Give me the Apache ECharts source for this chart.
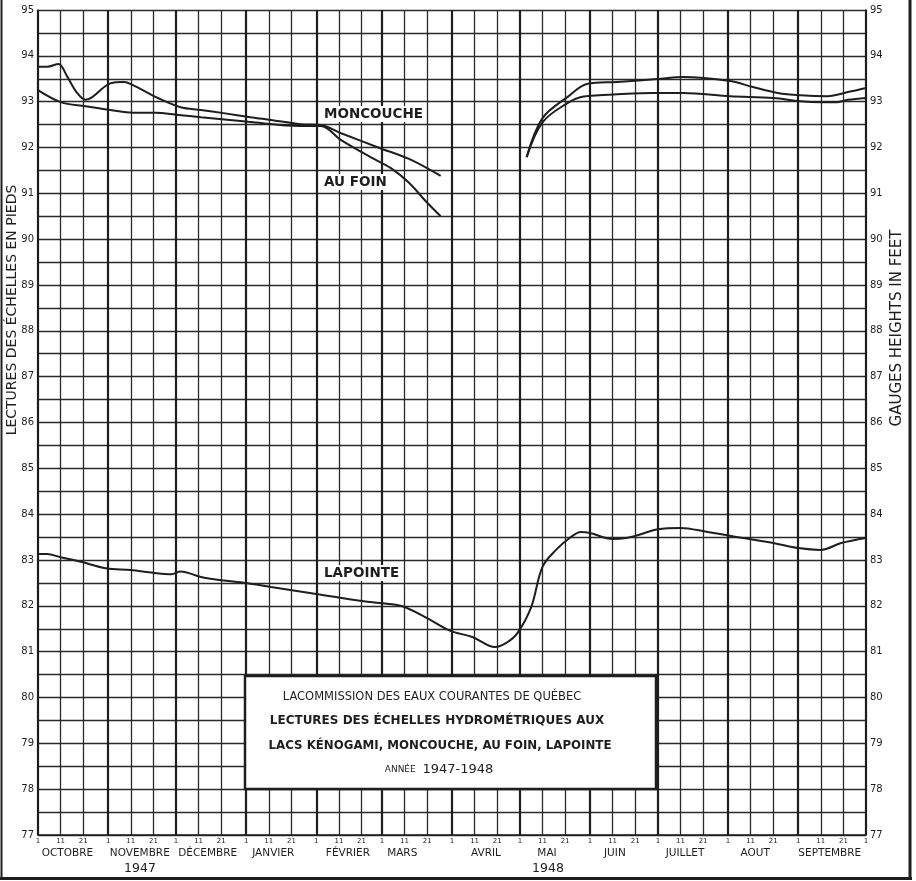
<!DOCTYPE html>
<html>
<head>
<meta charset="utf-8">
<script src="https://cdn.jsdelivr.net/npm/echarts@6/dist/echarts.min.js"></script>
<style>
html,body{margin:0;padding:0;background:#fff;}
#chart{width:916px;height:881px;}
</style>
</head>
<body>
<div id="chart"></div>
<script>
// ---------- DATA ----------
const moncoucheWinter = [
  ['1947-10-01', 93.76], ['1947-10-05', 93.76], ['1947-10-10', 93.82], ['1947-10-14', 93.54],
  ['1947-10-18', 93.21], ['1947-10-22', 93.04], ['1947-10-25', 93.10], ['1947-11-02', 93.40],
  ['1947-11-08', 93.43], ['1947-11-12', 93.36], ['1947-11-23', 93.08], ['1947-12-03', 92.88],
  ['1947-12-12', 92.82], ['1947-12-22', 92.75], ['1948-01-03', 92.66], ['1948-01-12', 92.60],
  ['1948-01-25', 92.51], ['1948-02-03', 92.49], ['1948-02-12', 92.31], ['1948-02-29', 91.99],
  ['1948-03-13', 91.75], ['1948-03-27', 91.38]
];
const auFoinWinter = [
  ['1947-10-01', 93.25], ['1947-10-11', 92.99], ['1947-10-22', 92.90], ['1947-11-02', 92.82],
  ['1947-11-12', 92.76], ['1947-11-22', 92.76], ['1947-12-02', 92.71], ['1947-12-12', 92.66],
  ['1948-01-02', 92.56], ['1948-01-25', 92.47], ['1948-02-03', 92.47], ['1948-02-12', 92.16],
  ['1948-02-25', 91.79], ['1948-03-05', 91.55], ['1948-03-13', 91.23], ['1948-03-20', 90.85],
  ['1948-03-27', 90.50]
];
const moncoucheSummer = [
  ['1948-05-04', 91.79], ['1948-05-11', 92.64], ['1948-05-22', 93.10], ['1948-05-31', 93.39],
  ['1948-06-13', 93.43], ['1948-07-02', 93.50], ['1948-07-12', 93.54], ['1948-08-02', 93.45],
  ['1948-08-12', 93.32], ['1948-08-23', 93.19], ['1948-09-02', 93.14], ['1948-09-14', 93.12],
  ['1948-09-23', 93.21], ['1948-10-01', 93.30]
];
const auFoinSummer = [
  ['1948-05-04', 91.79], ['1948-05-11', 92.55], ['1948-05-22', 92.97], ['1948-05-28', 93.10],
  ['1948-06-05', 93.14], ['1948-06-28', 93.19], ['1948-07-12', 93.19], ['1948-08-02', 93.12],
  ['1948-08-21', 93.08], ['1948-09-02', 93.01], ['1948-09-11', 92.99], ['1948-09-18', 92.99],
  ['1948-09-23', 93.04], ['1948-10-01', 93.08]
];
const lapointe = [
  ['1947-10-01', 83.13], ['1947-10-05', 83.13], ['1947-10-11', 83.06], ['1947-10-20', 82.96],
  ['1947-10-31', 82.82], ['1947-11-11', 82.78], ['1947-11-21', 82.72], ['1947-11-29', 82.69],
  ['1947-12-03', 82.75], ['1947-12-12', 82.63], ['1947-12-21', 82.56], ['1948-01-01', 82.50],
  ['1948-01-12', 82.41], ['1948-02-01', 82.26], ['1948-02-22', 82.10], ['1948-02-29', 82.06],
  ['1948-03-10', 81.99], ['1948-03-21', 81.73], ['1948-03-31', 81.46], ['1948-04-10', 81.32],
  ['1948-04-20', 81.10], ['1948-04-25', 81.19], ['1948-04-30', 81.41], ['1948-05-06', 81.97],
  ['1948-05-11', 82.85], ['1948-05-17', 83.22], ['1948-05-23', 83.48], ['1948-05-28', 83.61],
  ['1948-06-01', 83.59], ['1948-06-11', 83.46], ['1948-06-17', 83.48], ['1948-06-22', 83.54],
  ['1948-07-01', 83.67], ['1948-07-11', 83.70], ['1948-07-23', 83.61], ['1948-08-03', 83.52],
  ['1948-08-21', 83.37], ['1948-09-01', 83.26], ['1948-09-11', 83.22], ['1948-09-20', 83.37],
  ['1948-10-01', 83.48]
];
const dayTickDays = [1, 11, 21];
const monthLabelDates = ['1947-10-14','1947-11-15','1947-12-15','1948-01-13','1948-02-15','1948-03-10',
                         '1948-04-16','1948-05-13','1948-06-12','1948-07-13','1948-08-13','1948-09-15'];
const monthNames = ['OCTOBRE','NOVEMBRE','DÉCEMBRE','JANVIER','FÉVRIER','MARS',
                    'AVRIL','MAI','JUIN','JUILLET','AOUT','SEPTEMBRE'];
const yMin = 77, yMax = 95, yStep = 0.5;

// ---------- CATEGORY DAYS ----------
const dates = [];
for (let i = 0; i <= 366; i++) {
  const d = new Date(Date.UTC(1947, 9, 1) + i * 86400000);
  dates.push(d.toISOString().slice(0, 10));
}
const dayOf = v => parseInt(v.slice(8), 10);

const INK = '#1e1e1e';
const GRID = '#2a2a2a';
const FONT = 'DejaVu Sans';

const chart = echarts.init(document.getElementById('chart'));

const lineSeries = (data) => ({
  type: 'line', data: data, xAxisIndex: 0, yAxisIndex: 0,
  showSymbol: false, smooth: 0.35, z: 5,
  lineStyle: { color: INK, width: 2 }
});

chart.setOption({
  backgroundColor: '#fff',
  animation: false,
  grid: { left: 38, right: 50, top: 10, bottom: 46, containLabel: false },
  xAxis: [
    {
      type: 'category', data: dates, boundaryGap: false, position: 'bottom',
      axisLine: { show: true, lineStyle: { color: INK, width: 1.5 } },
      axisTick: { show: false },
      axisLabel: {
        interval: (i, v) => dayTickDays.includes(dayOf(v)),
        formatter: v => String(dayOf(v)),
        fontSize: 7, color: INK, margin: 3, fontFamily: FONT
      },
      splitLine: {
        show: true,
        interval: (i, v) => dayOf(v) === 11 || dayOf(v) === 21,
        lineStyle: { color: GRID, width: 1.3 }
      }
    },
    {
      type: 'category', data: dates, boundaryGap: false, position: 'bottom', offset: 0,
      axisLine: { show: false }, axisTick: { show: false },
      axisLabel: {
        interval: (i, v) => monthLabelDates.includes(v),
        formatter: v => monthNames[monthLabelDates.indexOf(v)] || '',
        fontSize: 10.5, color: INK, margin: 13, fontFamily: FONT
      },
      splitLine: {
        show: true,
        interval: (i, v) => dayOf(v) === 1,
        lineStyle: { color: INK, width: 2.2 }
      }
    }
  ],
  yAxis: [
    {
      type: 'value', min: yMin, max: yMax, interval: yStep, position: 'left',
      axisLine: { show: true, lineStyle: { color: INK, width: 1.5 } },
      axisTick: { show: false },
      axisLabel: {
        formatter: v => (v % 1 === 0 ? String(v) : ''),
        fontSize: 10, color: INK, margin: 4, fontFamily: FONT
      },
      splitLine: { show: true, lineStyle: { color: GRID, width: 1.3 } }
    },
    {
      type: 'value', min: yMin, max: yMax, interval: yStep, position: 'right',
      axisLine: { show: true, lineStyle: { color: INK, width: 1.5 } },
      axisTick: { show: false },
      axisLabel: {
        formatter: v => (v % 1 === 0 ? String(v) : ''),
        fontSize: 10, color: INK, margin: 4, fontFamily: FONT
      },
      splitLine: { show: false }
    }
  ],
  series: [
    Object.assign(lineSeries(moncoucheWinter), { name: 'MONCOUCHE' }),
    Object.assign(lineSeries(auFoinWinter), { name: 'AU FOIN' }),
    Object.assign(lineSeries(moncoucheSummer), { name: 'MONCOUCHE' }),
    Object.assign(lineSeries(auFoinSummer), { name: 'AU FOIN' }),
    Object.assign(lineSeries(lapointe), { name: 'LAPOINTE' })
  ],
  graphic: [
    // series labels
    { type: 'text', z: 100, left: 322, top: 106,
      style: { text: 'MONCOUCHE', font: 'bold 13.5px "DejaVu Sans"', fill: INK, backgroundColor: '#fff', padding: [1, 2] } },
    { type: 'text', z: 100, left: 322, top: 174,
      style: { text: 'AU FOIN', font: 'bold 13.5px "DejaVu Sans"', fill: INK, backgroundColor: '#fff', padding: [1, 2] } },
    { type: 'text', z: 100, left: 322, top: 565,
      style: { text: 'LAPOINTE', font: 'bold 13.5px "DejaVu Sans"', fill: INK, backgroundColor: '#fff', padding: [1, 2] } },
    // title box
    { type: 'rect', z: 100, shape: { x: 245, y: 676, width: 411, height: 113 },
      style: { fill: '#fff', stroke: INK, lineWidth: 2.5 } },
    { type: 'text', z: 101, x: 432, y: 697,
      style: { text: 'LACOMMISSION DES EAUX COURANTES DE QUÉBEC', font: '11.5px "DejaVu Sans"', fill: INK, align: 'center', verticalAlign: 'middle' } },
    { type: 'text', z: 101, x: 437, y: 721,
      style: { text: 'LECTURES DES ÉCHELLES HYDROMÉTRIQUES AUX', font: 'bold 12px "DejaVu Sans"', fill: INK, align: 'center', verticalAlign: 'middle' } },
    { type: 'text', z: 101, x: 440, y: 746,
      style: { text: 'LACS KÉNOGAMI, MONCOUCHE, AU FOIN, LAPOINTE', font: 'bold 11.8px "DejaVu Sans"', fill: INK, align: 'center', verticalAlign: 'middle' } },
    { type: 'text', z: 101, x: 439, y: 770,
      style: { text: '{s|ANNÉE}  {b|1947-1948}', align: 'center', verticalAlign: 'middle', fill: INK,
        rich: { s: { fontSize: 9, fontFamily: FONT, fill: INK }, b: { fontSize: 13, fontFamily: FONT, fill: INK } } } },
    // axis titles
    { type: 'text', z: 100, x: 12, y: 310, rotation: Math.PI / 2,
      style: { text: 'LECTURES DES ÉCHELLES EN PIEDS', font: '14px "DejaVu Sans"', fill: INK, align: 'center', verticalAlign: 'middle' } },
    { type: 'text', z: 100, x: 897, y: 328, rotation: Math.PI / 2,
      style: { text: 'GAUGES HEIGHTS IN FEET', font: '15px "DejaVu Sans"', fill: INK, align: 'center', verticalAlign: 'middle' } },
    // years
    { type: 'text', z: 100, x: 140, y: 869,
      style: { text: '1947', font: '12.5px "DejaVu Sans"', fill: INK, align: 'center', verticalAlign: 'middle' } },
    { type: 'text', z: 100, x: 548, y: 869,
      style: { text: '1948', font: '12.5px "DejaVu Sans"', fill: INK, align: 'center', verticalAlign: 'middle' } },
    // frame
    { type: 'line', z: 100, shape: { x1: 1.5, y1: 0, x2: 1.5, y2: 880 }, style: { stroke: INK, lineWidth: 2 } },
    { type: 'line', z: 100, shape: { x1: 0, y1: 878.5, x2: 912, y2: 878.5 }, style: { stroke: INK, lineWidth: 3 } },
    { type: 'line', z: 100, shape: { x1: 910, y1: 0, x2: 910, y2: 880 }, style: { stroke: INK, lineWidth: 3 } }
  ]
});
</script>
</body>
</html>
